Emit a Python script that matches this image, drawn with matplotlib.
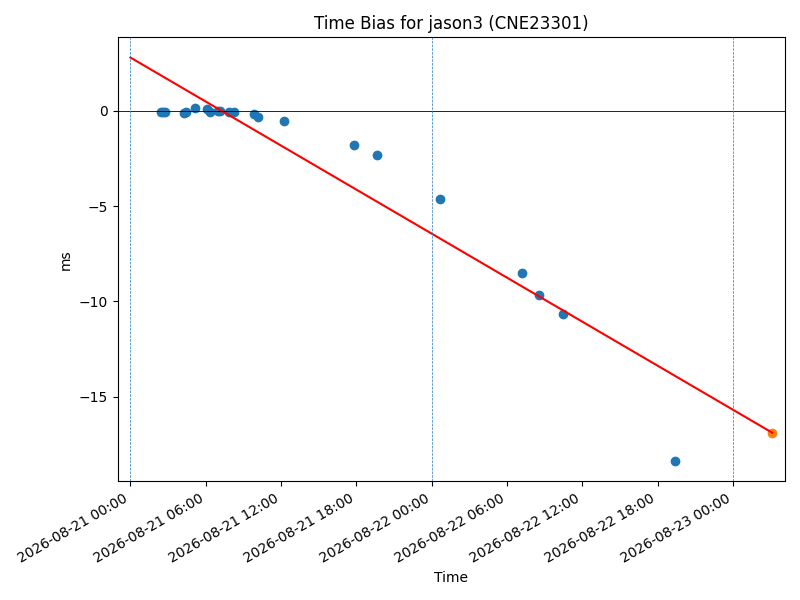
import pandas as pd
import matplotlib
matplotlib.use('Agg')
import matplotlib.pyplot as plt
import matplotlib.dates as mdates

# measured time bias (ms)
obs_times = ['2026-08-21 02:27', '2026-08-21 02:36', '2026-08-21 02:47',
             '2026-08-21 04:15', '2026-08-21 04:26', '2026-08-21 05:10',
             '2026-08-21 06:05', '2026-08-21 06:22', '2026-08-21 06:58',
             '2026-08-21 07:09', '2026-08-21 07:53', '2026-08-21 08:13',
             '2026-08-21 09:53', '2026-08-21 10:09', '2026-08-21 12:12',
             '2026-08-21 17:48', '2026-08-21 19:38', '2026-08-22 00:40',
             '2026-08-22 07:12', '2026-08-22 08:34', '2026-08-22 10:28',
             '2026-08-22 19:24']
obs_bias = [-0.05, -0.07, -0.05,
            -0.10, -0.05, 0.15,
            0.12, -0.05, 0.00,
            0.00, -0.05, -0.07,
            -0.14, -0.31, -0.54,
            -1.79, -2.31, -4.65,
            -8.51, -9.65, -10.68,
            -18.39]

# linear fit, extrapolated to the prediction time
fit_times = ['2026-08-21 00:00', '2026-08-23 03:08']
fit_bias = [2.80, -16.89]

pred_time = ['2026-08-23 03:08']
pred_bias = [-16.89]

day_starts = ['2026-08-21', '2026-08-22', '2026-08-23']


def main():
    fig, ax = plt.subplots(figsize=(8, 6), dpi=100)
    ax.scatter(pd.to_datetime(obs_times), obs_bias)
    ax.plot(pd.to_datetime(fit_times), fit_bias, color='red')
    ax.scatter(pd.to_datetime(pred_time), pred_bias)
    ax.axhline(0, color='black', linewidth=0.6)
    for d in pd.to_datetime(day_starts):
        ax.axvline(d, linestyle='--', linewidth=0.5, color='tab:blue')
    ax.margins(x=0.02)
    ax.xaxis.set_major_locator(mdates.HourLocator(byhour=[0, 6, 12, 18]))
    ax.xaxis.set_major_formatter(mdates.DateFormatter('%Y-%m-%d %H:%M'))
    ax.set_title('Time Bias for jason3 (CNE23301)')
    ax.set_xlabel('Time')
    ax.set_ylabel('ms')
    fig.autofmt_xdate()
    fig.tight_layout()
    fig.savefig('out.png')


if __name__ == '__main__':
    main()
